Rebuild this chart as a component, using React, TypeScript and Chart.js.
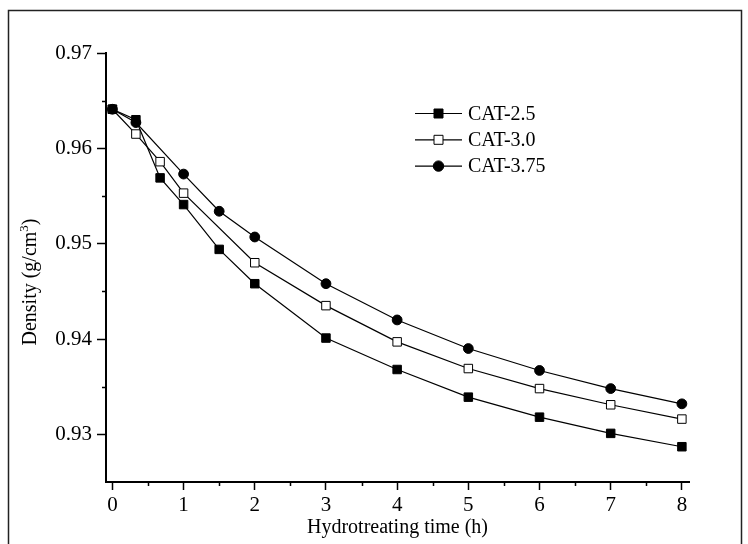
import React, { useEffect, useRef } from 'react';
import { Chart, registerables } from 'chart.js';

Chart.register(...registerables);

const FONT = "'Liberation Serif', 'Times New Roman', Times, serif";

// Tick values
const xTickValues = [0, 1, 2, 3, 4, 5, 6, 7, 8];
const xMinorValues = [0.5, 1.5, 2.5, 3.5, 4.5, 5.5, 6.5, 7.5];
const yTickValues = [0.93, 0.94, 0.95, 0.96, 0.97];
const yMinorValues = [0.935, 0.945, 0.955, 0.965];

// Series
const seriesNames = ['CAT-2.5', 'CAT-3.0', 'CAT-3.75'];

const timesCat25 = [0, 0.33, 0.67, 1, 1.5, 2, 3, 4, 5, 6, 7, 8];
const densityCat25 = [0.9641, 0.9630, 0.9569, 0.9541, 0.9494, 0.9458, 0.9401, 0.9368, 0.9339, 0.9318, 0.9301, 0.9287];

const timesCat30 = [0, 0.33, 0.67, 1, 2, 3, 4, 5, 6, 7, 8];
const densityCat30 = [0.9641, 0.9615, 0.9586, 0.9553, 0.9480, 0.9435, 0.9397, 0.9369, 0.9348, 0.9331, 0.9316];

const timesCat375 = [0, 0.33, 1, 1.5, 2, 3, 4, 5, 6, 7, 8];
const densityCat375 = [0.9641, 0.9627, 0.9573, 0.9534, 0.9507, 0.9458, 0.9420, 0.9390, 0.9367, 0.9348, 0.9332];

const xTitle = 'Hydrotreating time (h)';
const yTitleMain = 'Density (g/cm';
const yTitleSup = '3';
const yTitleEnd = ')';

function toPoints(xs: number[], ys: number[]) {
  return xs.map((x, i) => ({ x, y: ys[i] }));
}

export default function App() {
  const ref = useRef<HTMLCanvasElement>(null);

  useEffect(() => {
    const canvas = ref.current!;

    const markerStyles = [
      { shape: 'rect', fill: '#000' },
      { shape: 'rect', fill: '#fff' },
      { shape: 'circle', fill: '#000' },
    ];

    const decorPlugin = {
      id: 'decor',
      beforeDraw(chart: any) {
        const ctx = chart.ctx as CanvasRenderingContext2D;
        ctx.save();
        ctx.fillStyle = '#fff';
        ctx.fillRect(0, 0, chart.width, chart.height);
        ctx.strokeStyle = '#222';
        ctx.lineWidth = 1.5;
        ctx.beginPath();
        ctx.moveTo(8.5, chart.height);
        ctx.lineTo(8.5, 10.5);
        ctx.lineTo(741.5, 10.5);
        ctx.lineTo(741.5, chart.height);
        ctx.stroke();
        ctx.restore();
      },
      afterDraw(chart: any) {
        const ctx = chart.ctx as CanvasRenderingContext2D;
        const area = chart.chartArea;
        const xs = chart.scales.x;
        const ys = chart.scales.y;
        ctx.save();
        // minor ticks
        ctx.strokeStyle = '#000';
        ctx.lineWidth = 1.5;
        ctx.beginPath();
        xMinorValues.forEach((v) => {
          const px = Math.round(xs.getPixelForValue(v)) + 0.5;
          ctx.moveTo(px, area.bottom);
          ctx.lineTo(px, area.bottom + 4);
        });
        yMinorValues.forEach((v) => {
          const py = Math.round(ys.getPixelForValue(v)) + 0.5;
          ctx.moveTo(area.left - 4, py);
          ctx.lineTo(area.left, py);
        });
        ctx.stroke();

        // x title
        ctx.fillStyle = '#000';
        ctx.font = `20px ${FONT}`;
        ctx.textAlign = 'center';
        ctx.textBaseline = 'alphabetic';
        ctx.fillText(xTitle, (area.left + area.right) / 2, 533);

        // y title (rotated, with superscript)
        ctx.save();
        ctx.translate(36, 282);
        ctx.rotate(-Math.PI / 2);
        ctx.textAlign = 'left';
        ctx.font = `20px ${FONT}`;
        const w1 = ctx.measureText(yTitleMain).width;
        const w3 = ctx.measureText(yTitleEnd).width;
        ctx.font = `13px ${FONT}`;
        const w2 = ctx.measureText(yTitleSup).width;
        const total = w1 + w2 + w3;
        let sx = -total / 2;
        ctx.font = `20px ${FONT}`;
        ctx.fillText(yTitleMain, sx, 0);
        sx += w1;
        ctx.font = `13px ${FONT}`;
        ctx.fillText(yTitleSup, sx, -8);
        sx += w2;
        ctx.font = `20px ${FONT}`;
        ctx.fillText(yTitleEnd, sx, 0);
        ctx.restore();

        // legend
        const lx0 = 415;
        const lx1 = 462;
        const mx = 438.5;
        seriesNames.forEach((name, i) => {
          const ly = 113.5 + i * 26.3;
          ctx.strokeStyle = '#000';
          ctx.lineWidth = 1.2;
          ctx.beginPath();
          ctx.moveTo(lx0, ly);
          ctx.lineTo(lx1, ly);
          ctx.stroke();
          const st = markerStyles[i];
          ctx.fillStyle = st.fill;
          ctx.lineWidth = 1;
          ctx.beginPath();
          if (st.shape === 'rect') {
            ctx.rect(mx - 4.5, ly - 4.5, 9, 9);
          } else {
            ctx.arc(mx, ly, 5.2, 0, Math.PI * 2);
          }
          ctx.fill();
          ctx.stroke();
          ctx.fillStyle = '#000';
          ctx.font = `20px ${FONT}`;
          ctx.textAlign = 'left';
          ctx.textBaseline = 'middle';
          ctx.fillText(name, 468, ly + 1);
        });
        ctx.restore();
      },
    };

    const common = {
      showLine: true,
      borderColor: '#000',
      borderWidth: 1.2,
      pointBorderColor: '#000',
      pointBorderWidth: 1,
      pointHoverRadius: 0,
      tension: 0,
    };

    const chart = new Chart(canvas, {
      type: 'scatter',
      data: {
        datasets: [
          {
            ...common,
            label: seriesNames[0],
            data: toPoints(timesCat25, densityCat25),
            pointStyle: 'rect',
            pointRadius: 6,
            pointBackgroundColor: '#000',
            backgroundColor: '#000',
          },
          {
            ...common,
            label: seriesNames[1],
            data: toPoints(timesCat30, densityCat30),
            pointStyle: 'rect',
            pointRadius: 6,
            pointBackgroundColor: '#fff',
            backgroundColor: '#fff',
          },
          {
            ...common,
            label: seriesNames[2],
            data: toPoints(timesCat375, densityCat375),
            pointStyle: 'circle',
            pointRadius: 4.9,
            pointBackgroundColor: '#000',
            backgroundColor: '#000',
          },
        ],
      },
      options: {
        responsive: false,
        animation: false,
        devicePixelRatio: 1,
        layout: { padding: { left: 0, top: 53, right: 59, bottom: 0 } },
        plugins: {
          legend: { display: false },
          tooltip: { enabled: false },
          title: { display: false },
        },
        scales: {
          x: {
            type: 'linear',
            min: -0.09,
            max: 8.1,
            afterBuildTicks: (s: any) => {
              s.ticks = xTickValues.map((v) => ({ value: v }));
            },
            afterFit: (s: any) => {
              s.height = 62;
            },
            grid: {
              display: true,
              drawOnChartArea: false,
              drawTicks: true,
              tickLength: 8,
              tickWidth: 1.5,
              tickColor: '#000',
            },
            border: { display: true, color: '#000', width: 2 },
            ticks: {
              color: '#000',
              font: { family: FONT, size: 21 },
              padding: 3,
              maxRotation: 0,
              autoSkip: false,
              callback: (v: any) => String(v),
            },
            title: { display: false },
          },
          y: {
            type: 'linear',
            min: 0.925,
            max: 0.97,
            afterBuildTicks: (s: any) => {
              s.ticks = yTickValues.map((v) => ({ value: v }));
            },
            afterFit: (s: any) => {
              s.width = 106;
            },
            grid: {
              display: true,
              drawOnChartArea: false,
              drawTicks: true,
              tickLength: 9,
              tickWidth: 1.5,
              tickColor: '#000',
            },
            border: { display: true, color: '#000', width: 2 },
            ticks: {
              color: '#000',
              font: { family: FONT, size: 21 },
              padding: 5,
              autoSkip: false,
              callback: (v: any) => Number(v).toFixed(2),
            },
            title: { display: false },
          },
        },
      },
      plugins: [decorPlugin],
    } as any);

    return () => chart.destroy();
  }, []);

  return (
    <div style={{ position: 'absolute', left: 0, top: 0, width: 748, height: 544 }}>
      <canvas ref={ref} width={748} height={544} style={{ display: 'block', width: 748, height: 544 }} />
    </div>
  );
}
